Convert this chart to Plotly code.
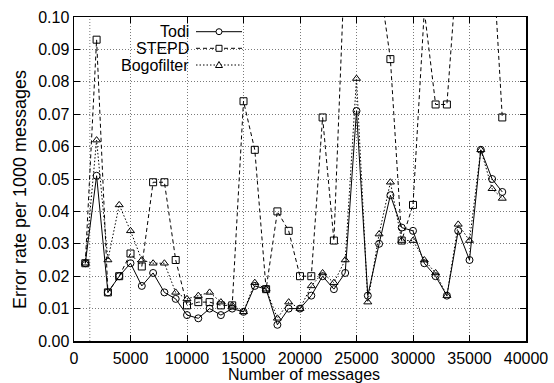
import plotly.graph_objects as go

# ---------------- data ----------------
messages = [1000, 2000, 3000, 4000, 5000, 6000, 7000, 8000, 9000, 10000,
            11000, 12000, 13000, 14000, 15000, 16000, 17000, 18000, 19000, 20000,
            21000, 22000, 23000, 24000, 25000, 26000, 27000, 28000, 29000, 30000,
            31000, 32000, 33000, 34000, 35000, 36000, 37000, 37900]

todi = [0.024, 0.051, 0.015, 0.020, 0.024, 0.017, 0.021, 0.015, 0.013, 0.008,
        0.007, 0.010, 0.008, 0.010, 0.009, 0.017, 0.016, 0.005, 0.010, 0.010,
        0.014, 0.020, 0.016, 0.021, 0.071, 0.014, 0.030, 0.045, 0.035, 0.034,
        0.024, 0.020, 0.014, 0.034, 0.025, 0.059, 0.050, 0.046]

stepd = [0.024, 0.093, 0.015, 0.020, 0.027, 0.023, 0.049, 0.049, 0.025, 0.011,
         0.012, 0.012, 0.011, 0.011, 0.074, 0.059, 0.016, 0.040, 0.034, 0.020,
         0.020, 0.069, 0.031, 0.120, 0.130, 0.125, 0.112, 0.087, 0.031, 0.042,
         0.102, 0.073, 0.073, 0.120, 0.130, 0.130, 0.123, 0.069]

bogofilter = [0.024, 0.062, 0.025, 0.042, 0.034, 0.025, 0.024, 0.024, 0.015, 0.013,
              0.014, 0.015, 0.012, 0.011, 0.009, 0.018, 0.016, 0.007, 0.012, 0.010,
              0.017, 0.021, 0.018, 0.025, 0.081, 0.012, 0.033, 0.049, 0.031, 0.031,
              0.025, 0.021, 0.014, 0.036, 0.031, 0.059, 0.047, 0.044]

series_names = ["Todi", "STEPD", "Bogofilter"]
x_ticks = [0, 5000, 10000, 15000, 20000, 25000, 30000, 35000, 40000]
y_ticks = [0.00, 0.01, 0.02, 0.03, 0.04, 0.05, 0.06, 0.07, 0.08, 0.09, 0.10]
x_title = "Number of messages"
y_title = "Error rate per 1000 messages"
ref_line_x = [1400]

# ---------------- styling ----------------
FONT = "Liberation Sans, Arial, Helvetica, sans-serif"
W, H = 554, 383
L, R, T, B = 74, 28, 17, 42
PW, PH = W - L - R, H - T - B
GRID = "#7a7a7a"


def px(xp):
    return (xp - L) / PW


def py(yp):
    return (H - B - yp) / PH


styles = [
    dict(dash="solid", symbol="circle-open"),
    dict(dash="4px,3px", symbol="square-open"),
    dict(dash="1.5px,2px", symbol="triangle-up-open"),
]
values = [todi, stepd, bogofilter]

fig = go.Figure()
for name, vals, st in zip(series_names, values, styles):
    fig.add_trace(go.Scatter(
        x=messages, y=vals, name=name, mode="lines+markers",
        line=dict(color="black", width=1, dash=st["dash"]),
        marker=dict(symbol=st["symbol"], size=7, color="black",
                    line=dict(color="black", width=1)),
        cliponaxis=True, hoverinfo="skip",
    ))

axis_common = dict(
    showline=True, linecolor="black", linewidth=1.5, mirror="ticks",
    ticks="inside", ticklen=6, tickcolor="black", tickwidth=1,
    showgrid=True, gridcolor=GRID, gridwidth=1, griddash="1px,2px",
    zeroline=False, automargin=False,
    tickfont=dict(family=FONT, size=16, color="black"),
)

fig.update_xaxes(range=[0, 40000], tickvals=x_ticks, ticktext=[str(v) for v in x_ticks],
                 ticklabelstandoff=2, **axis_common)
fig.update_yaxes(range=[0, 0.1], tickvals=y_ticks, ticktext=[f"{v:.2f}" for v in y_ticks],
                 **axis_common)

shapes = []
# legend background (hides grid under the key)
shapes.append(dict(type="rect", xref="paper", yref="paper",
                   x0=px(88), x1=px(250), y0=py(76), y1=py(18.5),
                   fillcolor="white", line=dict(width=0), layer="between"))
# dotted reference line
for xv in ref_line_x:
    shapes.append(dict(type="line", xref="x", yref="paper", x0=xv, x1=xv, y0=0, y1=1,
                       line=dict(color=GRID, width=1, dash="1px,2px"), layer="between"))

annotations = []
leg_y = [31.7, 48.3, 65]
for name, st, yy in zip(series_names, styles, leg_y):
    annotations.append(dict(text=name, xref="paper", yref="paper", x=px(191), y=py(yy),
                            xanchor="right", yanchor="middle", showarrow=False,
                            font=dict(family=FONT, size=16, color="black")))
    shapes.append(dict(type="line", xref="paper", yref="paper",
                       x0=px(196), x1=px(242), y0=py(yy), y1=py(yy),
                       line=dict(color="black", width=1, dash=st["dash"])))
    mx, my = px(219), py(yy)
    if st["symbol"].startswith("circle"):
        shapes.append(dict(type="circle", xref="paper", yref="paper",
                           xsizemode="pixel", ysizemode="pixel", xanchor=mx, yanchor=my,
                           x0=-3, x1=3, y0=-3, y1=3,
                           fillcolor="white", line=dict(color="black", width=1)))
    elif st["symbol"].startswith("square"):
        shapes.append(dict(type="rect", xref="paper", yref="paper",
                           xsizemode="pixel", ysizemode="pixel", xanchor=mx, yanchor=my,
                           x0=-3, x1=3, y0=-3, y1=3,
                           fillcolor="white", line=dict(color="black", width=1)))
    else:
        shapes.append(dict(type="path", xref="paper", yref="paper",
                           xsizemode="pixel", ysizemode="pixel", xanchor=mx, yanchor=my,
                           path="M -3.5 -2.5 L 3.5 -2.5 L 0 3.5 Z",
                           fillcolor="white", line=dict(color="black", width=1)))

# axis titles
annotations.append(dict(text=x_title, xref="paper", yref="paper", x=px(304), y=py(374),
                        xanchor="center", yanchor="middle", showarrow=False,
                        font=dict(family=FONT, size=16, color="black")))
annotations.append(dict(text=y_title, xref="paper", yref="paper", x=px(20), y=py(190),
                        xanchor="center", yanchor="middle", showarrow=False, textangle=-90,
                        font=dict(family=FONT, size=18, color="black")))

fig.update_layout(
    width=W, height=H,
    margin=dict(l=L, r=R, t=T, b=B),
    paper_bgcolor="white", plot_bgcolor="white",
    showlegend=False, hovermode=False,
    font=dict(family=FONT, size=16, color="black"),
    shapes=shapes, annotations=annotations,
)

fig.write_html("out.html",
               config={"displayModeBar": False, "staticPlot": True},
               post_script="document.body.style.margin='0';"
                           "document.body.style.padding='0';"
                           "document.body.style.overflow='hidden';")
